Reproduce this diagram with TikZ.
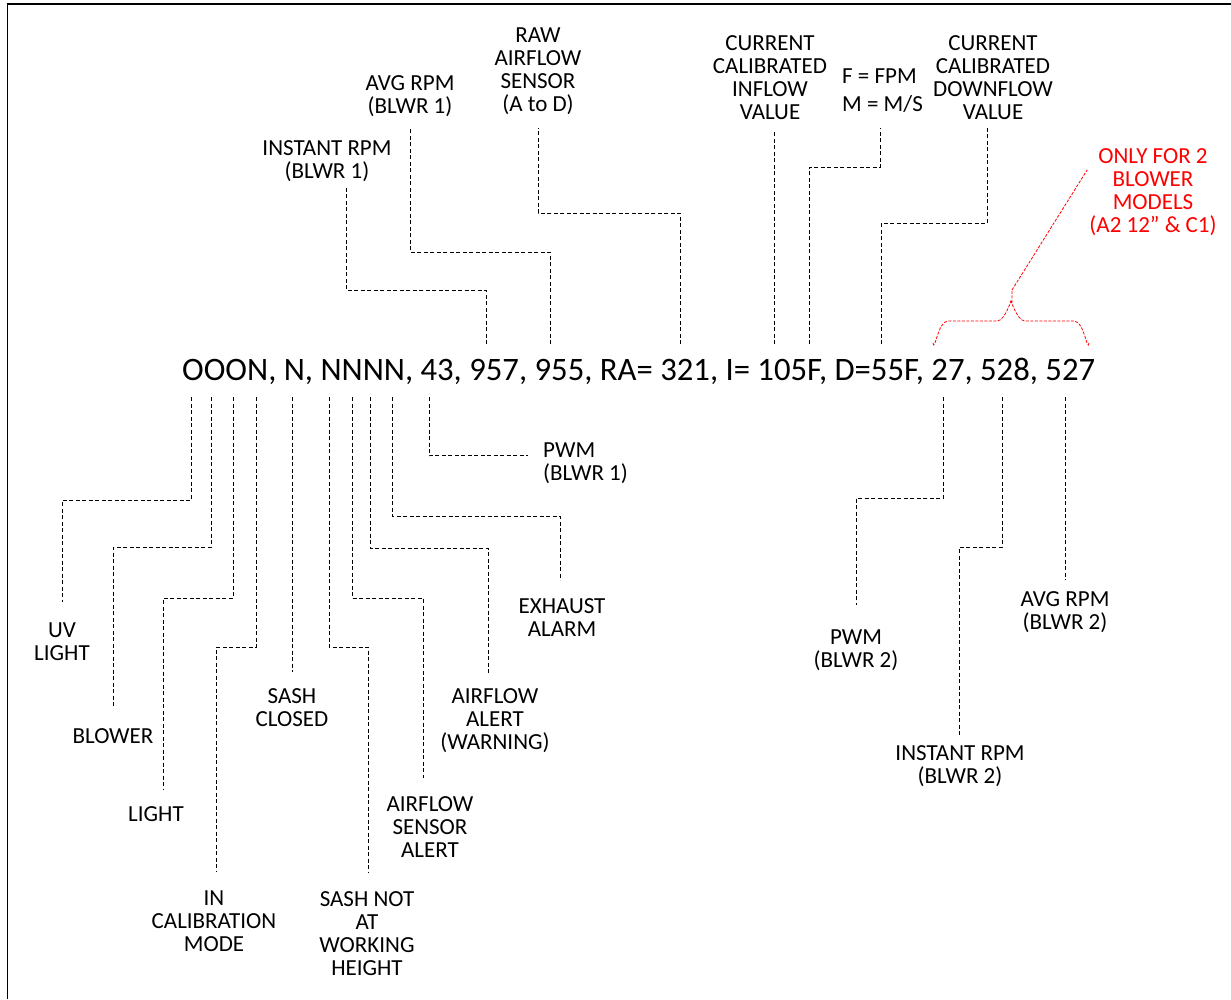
\documentclass[tikz,border=0pt]{standalone}
\usepackage{fontspec}
\setmainfont{Carlito}
\usepackage{tikz}
\usetikzlibrary{calc}

\begin{document}
\begin{tikzpicture}[
  x=1pt, y=-1pt,
  lbl/.style={align=center, inner sep=0pt, font=\fontsize{23}{23}\selectfont},
  note/.style={lbl, text=red},
  lead/.style={line width=0.9pt, dash pattern=on 4pt off 2.5pt},
  redlead/.style={red, line width=0.8pt, dash pattern=on 3pt off 1.5pt}
]
  \useasboundingbox (0,0) rectangle (1231,999);
  \draw[line width=1.8pt] (7.5,999) -- (7.5,4) -- (1231,4);

  % the status string
  \node[anchor=base west, inner sep=0pt, font=\fontsize{32.7}{38}\selectfont] (code) at (182,380)
    {OOON, N, NNNN, 43, 957, 955, RA= 321, I= 105F, D=55F, 27, 528, 527};

  % tap points above the string
  \coordinate (a1) at (486,344);
  \coordinate (a2) at (550,344);
  \coordinate (a3) at (680,344);
  \coordinate (a4) at (774,344);
  \coordinate (a5) at (809,344);
  \coordinate (a6) at (881,344);
  % tap points below the string
  \coordinate (b1) at (191,397);
  \coordinate (b2) at (211,397);
  \coordinate (b3) at (233,397);
  \coordinate (b4) at (256,397);
  \coordinate (b5) at (292,397);
  \coordinate (b6) at (329,397);
  \coordinate (b7) at (352,397);
  \coordinate (b8) at (370,397);
  \coordinate (b9) at (392,397);
  \coordinate (b10) at (429,397);
  \coordinate (b11) at (943,397);
  \coordinate (b12) at (1002,397);
  \coordinate (b13) at (1065,397);

  % upper labels
  \node[lbl, anchor=south] (rpmA) at (327,182) {INSTANT RPM\\(BLWR 1)};
  \node[lbl, anchor=south] (avgA) at (410,117) {AVG RPM\\(BLWR 1)};
  \node[lbl, anchor=south] (raw) at (538,115) {RAW\\AIRFLOW\\SENSOR\\(A to D)};
  \node[lbl, anchor=south] (inflow) at (770,120) {CURRENT\\CALIBRATED\\INFLOW\\VALUE};
  \node[lbl, align=left, anchor=south west] (fpm) at (842,113) {F = FPM\\[5pt]M = M/S};
  \node[lbl, anchor=south] (down) at (993,120) {CURRENT\\CALIBRATED\\DOWNFLOW\\VALUE};
  \node[note, anchor=north] (only) at (1153,148) {ONLY FOR 2\\BLOWER\\MODELS\\(A2 12” \& C1)};

  % lower labels
  \node[lbl, anchor=north] (uv) at (62,623) {UV\\LIGHT};
  \node[lbl, anchor=north] (blower) at (113,728) {BLOWER};
  \node[lbl, anchor=north] (light) at (156,806) {LIGHT};
  \node[lbl, anchor=north] (incal) at (214,891) {IN\\CALIBRATION\\MODE};
  \node[lbl, anchor=north] (sashc) at (292,688) {SASH\\CLOSED};
  \node[lbl, anchor=north] (sashn) at (367,891) {SASH NOT\\AT\\WORKING\\HEIGHT};
  \node[lbl, anchor=north] (sensor) at (430,796) {AIRFLOW\\SENSOR\\ALERT};
  \node[lbl, anchor=north] (warn) at (495,688) {AIRFLOW\\ALERT\\(WARNING)};
  \node[lbl, anchor=north] (exhaust) at (562,598) {EXHAUST\\ALARM};
  \node[lbl, align=left, anchor=north west] (pwmA) at (543,443) {PWM\\(BLWR 1)};
  \node[lbl, anchor=north] (pwmB) at (856,630) {PWM\\(BLWR 2)};
  \node[lbl, anchor=north] (rpmB) at (960,745) {INSTANT RPM\\(BLWR 2)};
  \node[lbl, anchor=north] (avgB) at (1065,591) {AVG RPM\\(BLWR 2)};

  % leaders up
  \draw[lead] (a1) -- ++(0,-54) -| ([shift={(19pt,-5pt)}]rpmA.south);
  \draw[lead] (a2) -- ++(0,-92) -| ([yshift=-11pt]avgA.south);
  \draw[lead] (a3) -- ++(0,-131) -| ([yshift=-13pt]raw.south);
  \draw[lead] (a4) -- ([shift={(4pt,-10pt)}]inflow.south);
  \draw[lead] (a5) -- ++(0,-177) -| ([shift={(38pt,-15pt)}]fpm.south west);
  \draw[lead] (a6) -- ++(0,-121) -| ([shift={(-6pt,-7pt)}]down.south);

  % leaders down
  \draw[lead] (b1) -- ++(0,103) -| ([yshift=21pt]uv.north);
  \draw[lead] (b2) -- ++(0,150) -| ([yshift=21pt]blower.north);
  \draw[lead] (b3) -- ++(0,201) -| ([shift={(7pt,16pt)}]light.north);
  \draw[lead] (b4) -- ++(0,250) -| ([shift={(2pt,19pt)}]incal.north);
  \draw[lead] (b5) -- ([yshift=16pt]sashc.north);
  \draw[lead] (b6) -- ++(0,250) -| ([shift={(1pt,19pt)}]sashn.north);
  \draw[lead] (b7) -- ++(0,201) -| ([shift={(-7pt,18pt)}]sensor.north);
  \draw[lead] (b8) -- ++(0,151) -| ([shift={(-7pt,15pt)}]warn.north);
  \draw[lead] (b9) -- ++(0,119) -| ([shift={(-2pt,18pt)}]exhaust.north);
  \draw[lead] (b10) |- ([shift={(-15pt,8pt)}]pwmA.west);
  \draw[lead] (b11) -- ++(0,101) -| ([yshift=25pt]pwmB.north);
  \draw[lead] (b12) -- ++(0,150) -| ([shift={(-1pt,10pt)}]rpmB.north);
  \draw[lead] (b13) -- ([yshift=11pt]avgB.north);

  % brace over the 2nd blower values
  \coordinate (brL) at (933,343);
  \coordinate (brR) at (1089,343);
  \coordinate (brTip) at (1012,290);
  \draw[redlead] (brL) to[out=-80,in=180] ++(15,-22) -- ++(49,0)
    to[out=0,in=90] ++(15,-18) -- (brTip);
  \draw[redlead] (brR) to[out=-100,in=0] ++(-15,-22) -- ++(-49,0)
    to[out=180,in=90] ++(-15,-18);
  \draw[redlead] (brTip) -- ([shift={(-2pt,22pt)}]only.west);
\end{tikzpicture}
\end{document}
